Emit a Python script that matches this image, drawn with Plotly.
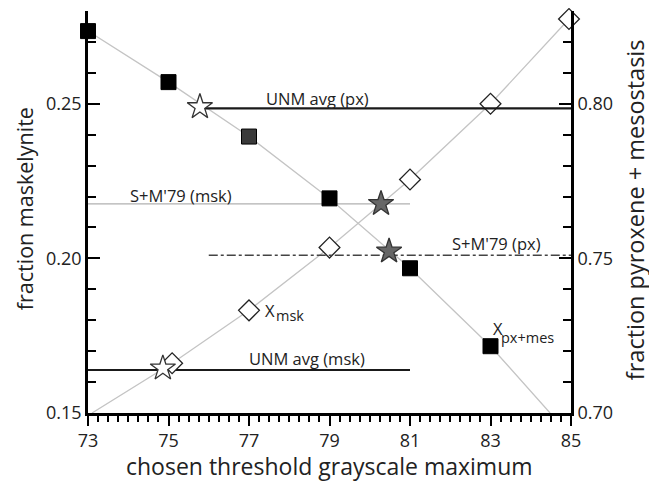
import plotly.graph_objects as go

# ---- data ----
# squares: X_px+mes (right axis)
sq_x = [73, 75, 77, 79, 81, 83]
sq_y = [0.8235, 0.8070, 0.7894, 0.7694, 0.7468, 0.7216]
sq_colors = ["#000000", "#000000", "#3a3a3a", "#000000", "#000000", "#000000"]
sq_line_x = [73, 75, 77, 79, 81, 83, 84.48]
sq_line_y = [0.8235, 0.8070, 0.7894, 0.7694, 0.7468, 0.7216, 0.70]

# diamonds: X_msk (left axis)
di_x = [75.09, 77, 79, 81, 83, 84.95]
di_y = [0.1661, 0.1832, 0.2035, 0.2255, 0.2500, 0.2774]
di_line_x = [73.1, 75.09, 77, 79, 81, 83, 84.95]
di_line_y = [0.150, 0.1661, 0.1832, 0.2035, 0.2255, 0.2500, 0.2774]

# reference lines
unm_px_x = [75.78, 85]; unm_px_y = [0.7985, 0.7985]        # right axis
unm_msk_x = [73, 81]; unm_msk_y = [0.1639, 0.1639]         # left axis
sm_msk_x = [73, 81]; sm_msk_y = [0.2176, 0.2176]           # left axis
sm_px_x = [76, 85]; sm_px_y = [0.7510, 0.7510]             # right axis

# stars
white_star_x = [74.86]; white_star_y = [0.1645]            # left
white_star2_x = [75.78]; white_star2_y = [0.7990]          # right
grey_star_x = [80.28]; grey_star_y = [0.2177]              # left
grey_star2_x = [80.48]; grey_star2_y = [0.7523]            # right

x_ticks = [73, 75, 77, 79, 81, 83, 85]
yl_ticks = [0.15, 0.20, 0.25]
yr_ticks = [0.70, 0.75, 0.80]

FONT = "Open Sans"
fig = go.Figure()

LG = "#c4c4c4"
fig.add_trace(go.Scatter(x=sq_line_x, y=sq_line_y, yaxis="y2", mode="lines",
                         line=dict(color=LG, width=1.3), cliponaxis=False))
fig.add_trace(go.Scatter(x=di_line_x, y=di_line_y, mode="lines",
                         line=dict(color=LG, width=1.3), cliponaxis=False))
fig.add_trace(go.Scatter(x=sm_msk_x, y=sm_msk_y, mode="lines",
                         line=dict(color="#b0b0b0", width=1.3)))
fig.add_trace(go.Scatter(x=unm_msk_x, y=unm_msk_y, mode="lines",
                         line=dict(color="#1a1a1a", width=2)))
fig.add_trace(go.Scatter(x=unm_px_x, y=unm_px_y, yaxis="y2", mode="lines",
                         line=dict(color="#1a1a1a", width=2.2)))
fig.add_trace(go.Scatter(x=sm_px_x, y=sm_px_y, yaxis="y2", mode="lines",
                         line=dict(color="#444444", width=1.4, dash="dashdot")))

fig.add_trace(go.Scatter(x=sq_x, y=sq_y, yaxis="y2", mode="markers", cliponaxis=False,
                         marker=dict(symbol="square", size=15, color=sq_colors,
                                     line=dict(color="#000", width=1))))
fig.add_trace(go.Scatter(x=di_x, y=di_y, mode="markers", cliponaxis=False,
                         marker=dict(symbol="diamond", size=16, color="white",
                                     line=dict(color="#222", width=1.3))))
fig.add_trace(go.Scatter(x=white_star_x, y=white_star_y, mode="markers", cliponaxis=False,
                         marker=dict(symbol="star", size=19, color="white",
                                     line=dict(color="#333", width=1.3))))
fig.add_trace(go.Scatter(x=white_star2_x, y=white_star2_y, yaxis="y2", mode="markers", cliponaxis=False,
                         marker=dict(symbol="star", size=19, color="white",
                                     line=dict(color="#333", width=1.3))))
fig.add_trace(go.Scatter(x=grey_star_x, y=grey_star_y, mode="markers", cliponaxis=False,
                         marker=dict(symbol="star", size=19, color="#666666",
                                     line=dict(color="#333", width=1.3))))
fig.add_trace(go.Scatter(x=grey_star2_x, y=grey_star2_y, yaxis="y2", mode="markers", cliponaxis=False,
                         marker=dict(symbol="star", size=19, color="#666666",
                                     line=dict(color="#333", width=1.3))))

ann_font = dict(family=FONT, size=16.5, color="#222")
sub_font = dict(family=FONT, size=14.5, color="#222")
title_font = dict(family=FONT, size=23, color="#222")


def label(x, y, text, yref, font, xanchor="center"):
    return dict(x=x, y=y, yref=yref, text=text, showarrow=False, font=font,
                xanchor=xanchor, yanchor="middle")


anns = [
    label(78.71, 0.8016, "UNM avg (px)", "y2", ann_font),
    label(78.44, 0.1677, "UNM avg (msk)", "y", ann_font),
    label(75.31, 0.2203, "S+M'79 (msk)", "y", ann_font),
    label(83.14, 0.7548, "S+M'79 (px)", "y2", ann_font),
    # X_msk label
    label(77.35, 0.1833, "X", "y", ann_font, "left"),
    label(77.62, 0.1814, "msk", "y", sub_font, "left"),
    # X_px+mes label
    label(83.02, 0.7272, "X", "y2", ann_font, "left"),
    label(83.22, 0.7245, "px+mes", "y2", sub_font, "left"),
    # axis titles
    dict(x=0.5, y=-0.132, xref="paper", yref="paper", text="chosen threshold grayscale maximum",
         showarrow=False, font=title_font, xanchor="center", yanchor="middle"),
    dict(x=-0.1325, y=0.507, xref="paper", yref="paper", text="fraction maskelynite",
         showarrow=False, textangle=-90, font=dict(family=FONT, size=21.5, color="#222"),
         xanchor="center", yanchor="middle"),
    dict(x=1.1325, y=0.507, xref="paper", yref="paper", text="fraction pyroxene + mesostasis",
         showarrow=False, textangle=-90, font=dict(family=FONT, size=23.5, color="#222"),
         xanchor="center", yanchor="middle"),
]

axis_common = dict(showgrid=False, zeroline=False, linecolor="black", linewidth=2.6,
                   tickcolor="black", tickwidth=2, showline=True, automargin=False)

fig.update_layout(
    width=657, height=482,
    margin=dict(l=80, r=94, t=3, b=77),
    plot_bgcolor="white", paper_bgcolor="white",
    showlegend=False,
    font=dict(family=FONT, color="#222"),
    annotations=anns,
    xaxis=dict(range=[73, 85], tickvals=x_ticks, ticks="outside", ticklen=10,
               tickfont=dict(size=18, family=FONT),
               minor=dict(dtick=0.25, tick0=73, ticks="outside", ticklen=6, tickwidth=1.5,
                          tickcolor="black"),
               **axis_common),
    xaxis2=dict(range=[73, 85], overlaying="x", side="top", anchor="y",
                tickvals=x_ticks, ticks="inside", ticklen=10, showticklabels=False,
                minor=dict(dtick=0.25, tick0=73, ticks="inside", ticklen=6, tickwidth=1.5,
                           tickcolor="black"),
                **axis_common),
    yaxis=dict(range=[0.15, 0.28], tickvals=yl_ticks, ticktext=["0.15", "0.20", "0.25"],
               ticks="inside", ticklen=12,
               tickfont=dict(size=18, family=FONT),
               minor=dict(dtick=0.01, tick0=0.15, ticks="inside", ticklen=8, tickwidth=1.5,
                          tickcolor="black"),
               **axis_common),
    yaxis2=dict(range=[0.70, 0.83], overlaying="y", side="right", anchor="x",
                tickvals=yr_ticks, ticktext=["0.70", "0.75", "0.80"],
                ticks="inside", ticklen=12,
                tickfont=dict(size=18, family=FONT),
                minor=dict(dtick=0.01, tick0=0.70, ticks="inside", ticklen=8, tickwidth=1.5,
                           tickcolor="black"),
                **axis_common),
)

fig.write_html("out.html")
